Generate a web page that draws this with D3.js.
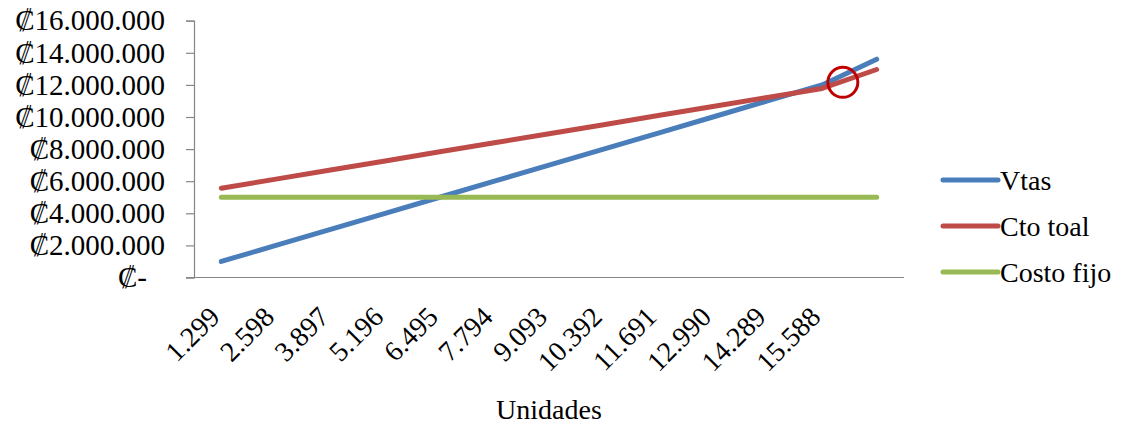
<!DOCTYPE html>
<html>
<head>
<meta charset="utf-8">
<script src="https://cdn.jsdelivr.net/npm/d3@7"></script>
<style>
  html, body { margin: 0; padding: 0; background: #fff; }
  svg { display: block; }
  text { font-family: "Liberation Serif", "Times New Roman", "DejaVu Serif", serif; fill: #000; }
</style>
</head>
<body>
<svg id="chart" width="1121" height="427"></svg>
<script>
// Units sold per step (category axis); the last step carries no label
const unidades = ["1.299", "2.598", "3.897", "5.196", "6.495", "7.794", "9.093",
                  "10.392", "11.691", "12.990", "14.289", "15.588", ""];

// Series values in colones
const vtas      = [1000000, 2000000, 3000000, 4000000, 5000000, 6000000, 7000000,
                   8000000, 9000000, 10000000, 11000000, 12000000, 13600000];
const ctoTotal  = [5565000, 6130000, 6695000, 7260000, 7830000, 8390000, 8960000,
                   9520000, 10090000, 10650000, 11220000, 11780000, 12960000];
const costoFijo = [5000000, 5000000, 5000000, 5000000, 5000000, 5000000, 5000000,
                   5000000, 5000000, 5000000, 5000000, 5000000, 5000000];

const yTicks = [0, 2000000, 4000000, 6000000, 8000000, 10000000, 12000000, 14000000, 16000000];

const seriesNames  = ["Vtas", "Cto toal", "Costo fijo"];
const seriesColors = ["#4A7EBB", "#BE4B48", "#98B954"];
const seriesData   = [vtas, ctoTotal, costoFijo];

// Break-even marker (category position, value)
const marcaEquilibrio = { pos: 11.38, valor: 12160000 };

const svg = d3.select("#chart");
const plot = { left: 194, right: 904, top: 20.7, bottom: 277.5 };

const x = d3.scaleBand()
  .domain(unidades.map((d, i) => i))
  .range([plot.left, plot.right]);
const xc = i => x(i) + x.bandwidth() / 2;
const xPos = p => x(0) + x.bandwidth() * (p + 0.5);

const y = d3.scaleLinear().domain([0, 16000000]).range([plot.bottom, plot.top]);

const loc = d3.formatLocale({ decimal: ",", thousands: ".", grouping: [3], currency: ["₡", ""] });
const fmt = loc.format(",.0f");

// Y axis
const yAxis = svg.append("g")
  .attr("transform", `translate(${plot.left},0)`)
  .call(d3.axisLeft(y).tickValues(yTicks).tickSize(8).tickPadding(21)
    .tickFormat(d => d === 0 ? "₡-" : "₡" + fmt(d)));
yAxis.select(".domain").attr("stroke", "#868686").attr("stroke-width", 1.2);
yAxis.selectAll(".tick line").attr("stroke", "#868686").attr("stroke-width", 1.2);
yAxis.selectAll(".tick text")
  .attr("font-size", 29)
  .attr("font-family", "Liberation Serif, DejaVu Serif, serif")
  .attr("fill", "#000")
  .attr("dx", d => d === 0 ? -18 : 0);

// X axis
const xAxis = svg.append("g")
  .attr("transform", `translate(0,${plot.bottom})`)
  .call(d3.axisBottom(x).tickSize(0).tickPadding(0).tickFormat(i => unidades[i]));
xAxis.select(".domain").attr("stroke", "#868686").attr("stroke-width", 1.2)
  .attr("d", `M${plot.left - 8},0H${plot.right}`);
xAxis.selectAll(".tick text")
  .attr("font-size", 28)
  .attr("font-family", "Liberation Serif, DejaVu Serif, serif")
  .attr("fill", "#000")
  .attr("text-anchor", "end")
  .attr("dy", 0)
  .attr("transform", "translate(0,41) rotate(-45)");

// Series lines
const line = d3.line().x((d, i) => xc(i)).y(d => y(d));
seriesData.forEach((vals, k) => {
  svg.append("path")
    .datum(vals)
    .attr("fill", "none")
    .attr("stroke", seriesColors[k])
    .attr("stroke-width", 5)
    .attr("stroke-linecap", "round")
    .attr("stroke-linejoin", "round")
    .attr("d", line);
});

// Break-even circle
svg.append("circle")
  .attr("cx", xPos(marcaEquilibrio.pos))
  .attr("cy", y(marcaEquilibrio.valor))
  .attr("r", 15)
  .attr("fill", "none")
  .attr("stroke", "#C00000")
  .attr("stroke-width", 3);

// Axis title
svg.append("text")
  .attr("x", (plot.left + plot.right) / 2)
  .attr("y", 419)
  .attr("text-anchor", "middle")
  .attr("font-size", 28)
  .text("Unidades");

// Legend
const legend = svg.append("g");
seriesNames.forEach((name, k) => {
  const ly = 180 + k * 46;
  legend.append("line")
    .attr("x1", 943).attr("x2", 998)
    .attr("y1", ly).attr("y2", ly)
    .attr("stroke", seriesColors[k])
    .attr("stroke-width", 5)
    .attr("stroke-linecap", "round");
  legend.append("text")
    .attr("x", 1000)
    .attr("y", ly)
    .attr("dy", "0.35em")
    .attr("font-size", 28)
    .text(name);
});
</script>
</body>
</html>
